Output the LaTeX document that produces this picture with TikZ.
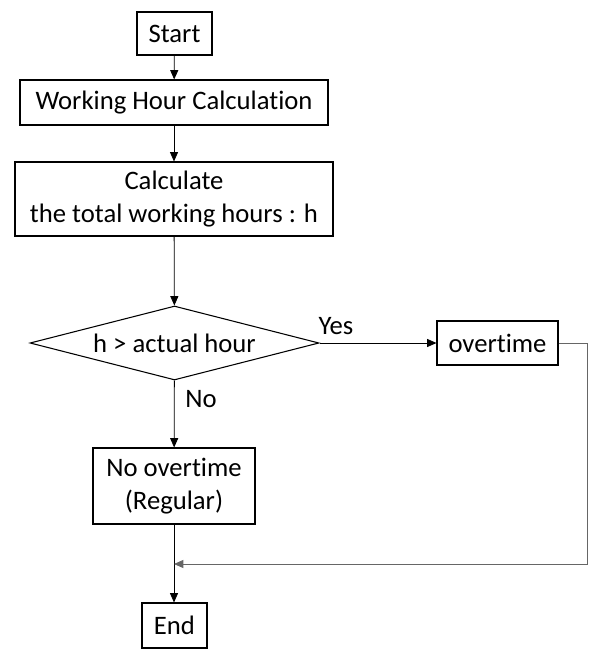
\documentclass[tikz,border=0pt]{standalone}
\usepackage{fontspec}
\setmainfont{Carlito}[RawFeature={-liga}]
\usetikzlibrary{shapes.geometric,arrows.meta}

\tikzset{
  box/.style={draw,line width=0.8pt,inner sep=0pt,align=center,font=\fontsize{20}{24.75}\selectfont},
  decide/.style={diamond,draw,line width=0.8pt,inner sep=0pt,aspect=3.9,font=\fontsize{20}{24.75}\selectfont},
  flow/.style={line width=0.6pt,-{Triangle[length=7pt,width=6pt]}},
  lbl/.style={font=\fontsize{20}{24}\selectfont}
}

\begin{document}
\begin{tikzpicture}[x=0.75pt,y=-0.75pt]
\useasboundingbox (0,0) rectangle (596,655);

\node[box,minimum width=56.25pt,minimum height=32.25pt] (start) at (174.5,33.5) {Start};
\node[box,minimum width=231pt,minimum height=33.75pt] (whc) at (174,102.5) {Working Hour Calculation};
\node[box,minimum width=238.5pt,minimum height=55.5pt] (calc) at (174,199) {Calculate\\the total working hours : h};
\node[decide,minimum width=216.75pt,minimum height=55.5pt] (cmp) at (174.5,343) {h > actual hour};
\node[box,minimum width=90.75pt,minimum height=33pt] (over) at (497.5,343) {overtime};
\node[box,minimum width=121.5pt,minimum height=57pt] (reg) at (174,486) {No overtime\\(Regular)};
\node[box,minimum width=48.75pt,minimum height=33.75pt] (end) at (174.5,625.5) {End};

\coordinate (rt) at (587,564);
\coordinate (join) at (174,564);

\draw[flow] (start) -- (whc);
\draw[flow] (whc) -- (calc);
\draw[flow] (calc) -- (cmp);
\draw[flow] (cmp) -- (over);
\draw[flow] (cmp) -- (reg);
\draw[line width=0.6pt] (reg) -- (join);
\draw[flow] (join) -- (end.north -| join);
\draw[flow,gray!80!black] (over.east) -| (rt) -- (join);

\node[lbl] (yes) at (336,326) {Yes};
\node[lbl] (no) at (201,399) {No};
\end{tikzpicture}
\end{document}
